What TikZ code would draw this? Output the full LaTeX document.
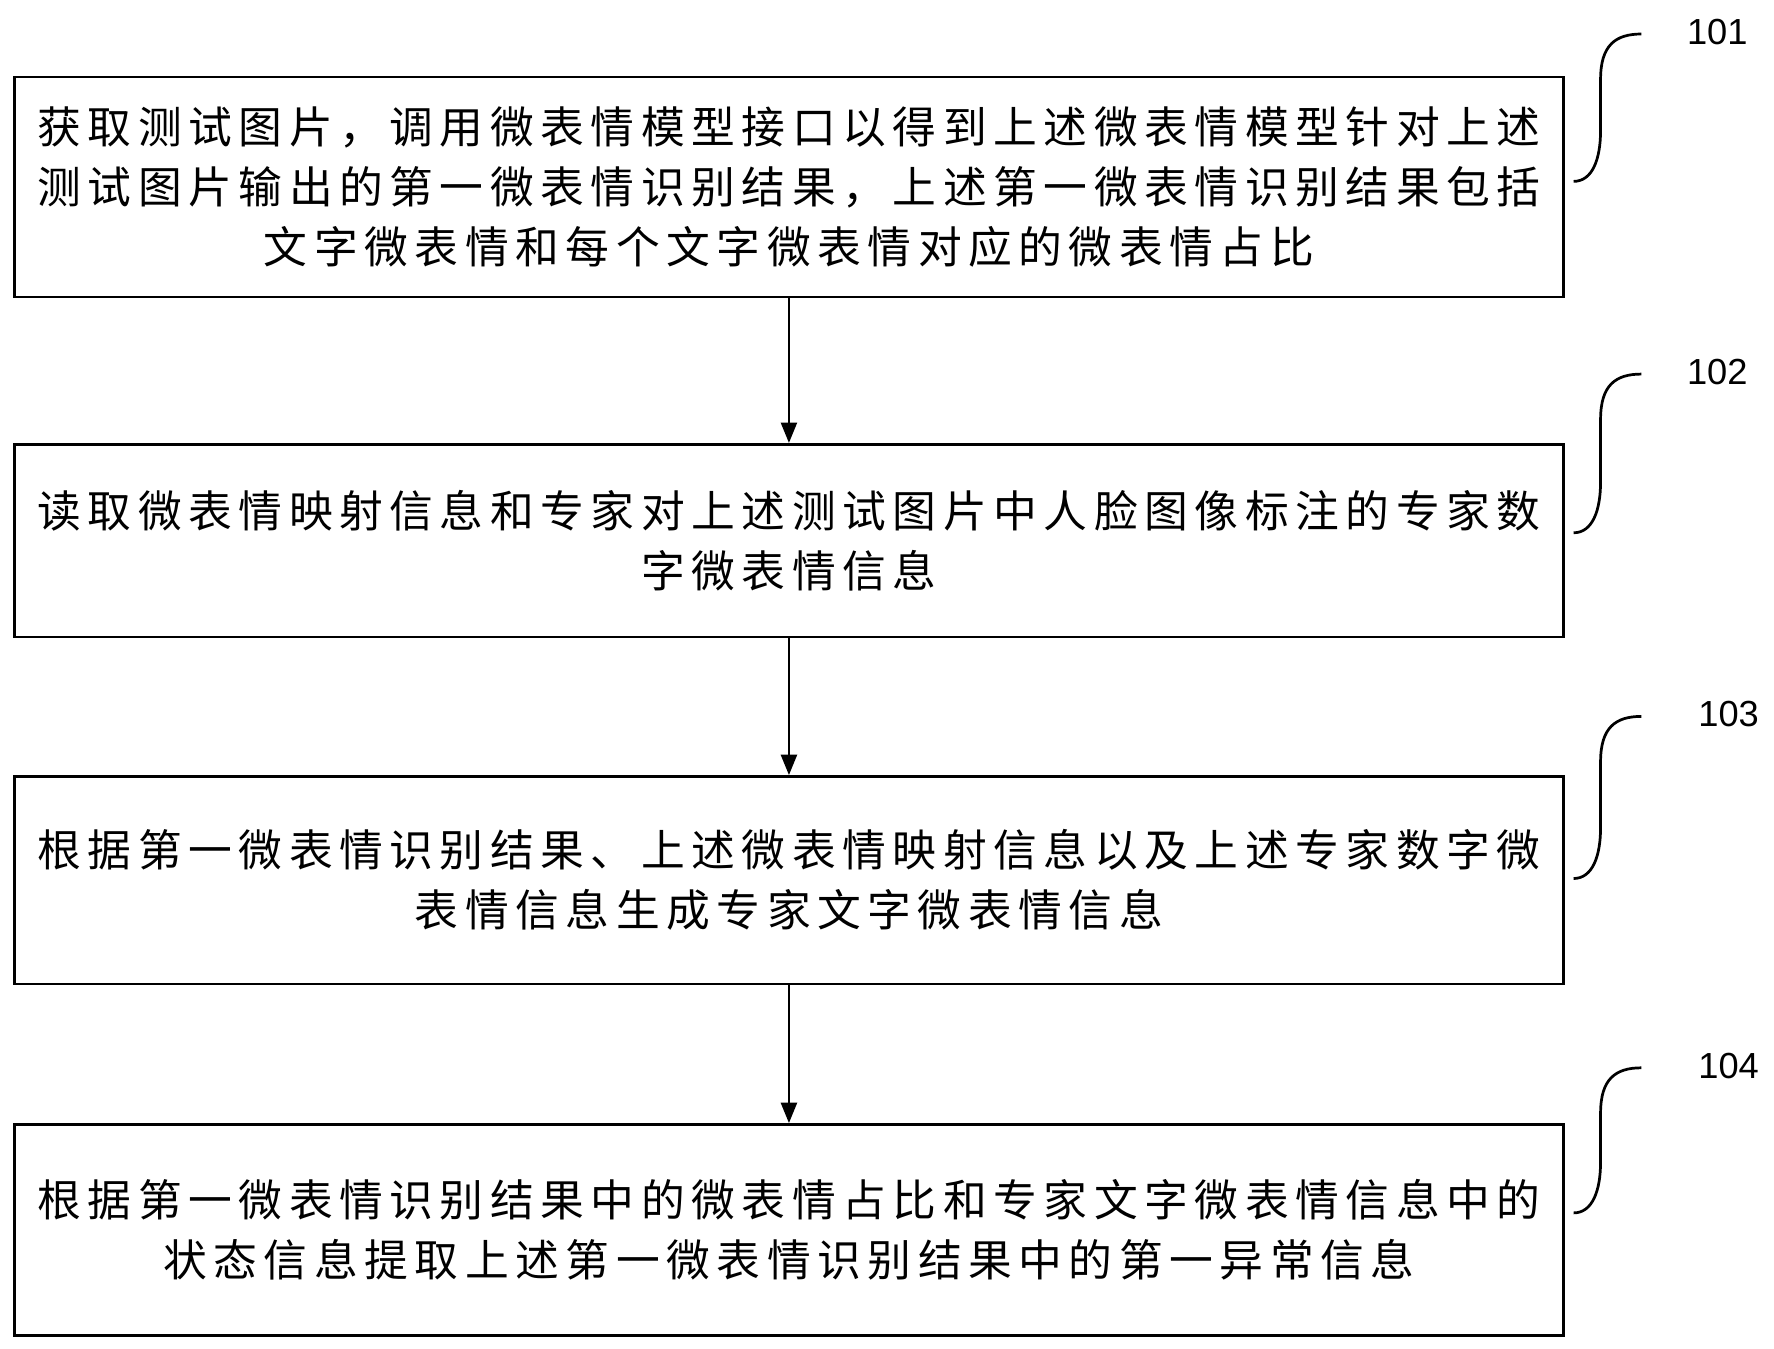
\documentclass[tikz,border=0pt]{standalone}
\usepackage{fontspec}
\newfontfamily\cjk[LetterSpace=15]{Noto Sans CJK SC}
\setmainfont{Liberation Sans}
\usetikzlibrary{arrows.meta}
\tikzset{
  stepbox/.style={draw, line width=1.2pt, minimum width=683pt, inner sep=0pt,
    align=center, font=\cjk\fontsize{19.3}{26.5}\selectfont},
  flow/.style={-{Triangle[length=9pt,width=7pt]}, line width=1.2pt},
  hook/.style={line width=1.2pt},
  num/.style={font=\fontsize{16}{18}\selectfont}
}
\begin{document}
\begin{tikzpicture}[x=0.5pt,y=-0.5pt]
\useasboundingbox (0,0) rectangle (1565,1190);
% steps
\node[stepbox, minimum height=97pt] (s1) at (696,165) {获取测试图片，调用微表情模型接口以得到上述微表情模型针对上述\\测试图片输出的第一微表情识别结果，上述第一微表情识别结果包括\\文字微表情和每个文字微表情对应的微表情占比};
\node[stepbox, minimum height=85pt] (s2) at (696,477) {读取微表情映射信息和专家对上述测试图片中人脸图像标注的专家数\\字微表情信息};
\node[stepbox, minimum height=91.5pt] (s3) at (696,776.5) {根据第一微表情识别结果、上述微表情映射信息以及上述专家数字微\\表情信息生成专家文字微表情信息};
\node[stepbox, minimum height=93pt] (s4) at (696,1085) {根据第一微表情识别结果中的微表情占比和专家文字微表情信息中的\\状态信息提取上述第一微表情识别结果中的第一异常信息};
% arrows
\draw[flow] (s1) -- (s2);
\draw[flow] (s2) -- (s3);
\draw[flow] (s3) -- (s4);
% labels
\node[num] (n1) at (1515,28) {101};
\node[num] (n2) at (1515,328) {102};
\node[num] (n3) at (1525,630) {103};
\node[num] (n4) at (1525,940) {104};
\foreach \s/\n/\y/\t in {s1/n1/160/30, s2/n2/470/330, s3/n3/775/632, s4/n4/1070/942}{
  \coordinate (b) at (\s.east |- 0,\y);
  \draw[hook] ([xshift=4pt]b) .. controls (1405,\y) and (1412,\y-20) .. (1412,\y-45)
    -- (1412,\t+40) .. controls (1412,\t+10) and (1425,\t) .. (1448,\t);
}
\end{tikzpicture}
\end{document}
